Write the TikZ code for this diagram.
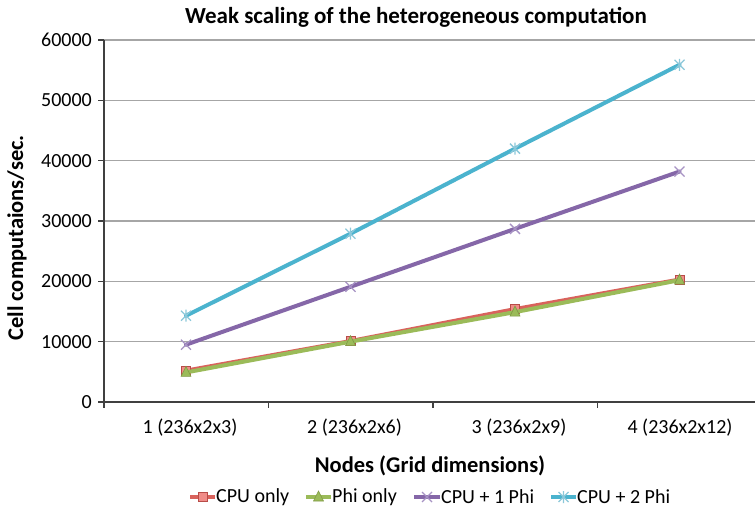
\documentclass[tikz,border=0pt]{standalone}
\usepackage{fontspec}
\setmainfont{Carlito}
\usetikzlibrary{calc}
\definecolor{cred}{HTML}{D9625C}
\definecolor{credf}{HTML}{F08C88}
\definecolor{credd}{HTML}{B84C48}
\definecolor{cgreen}{HTML}{9BBB59}
\definecolor{cgreend}{HTML}{7F9A45}
\definecolor{cpurple}{HTML}{8567A8}
\definecolor{cpurplel}{HTML}{A793C4}
\definecolor{ccyan}{HTML}{4BB3CE}
\definecolor{ccyanl}{HTML}{8CC8DA}
\definecolor{gridgray}{HTML}{A6A6A6}
\definecolor{axisc}{HTML}{404040}
\tikzset{
  hgrid/.style={draw=gridgray,line width=1.4},
  axisline/.style={draw=axisc,line width=1.4},
  series/.style={line width=4,line join=round,line cap=round},
  sqmark/.style={draw=credd,fill=credf,line width=0.8,minimum size=9,inner sep=0,rectangle},
  ticklab/.style={font=\fontsize{20}{22}\selectfont,text=black},
  axtitle/.style={font=\bfseries\fontsize{22.5}{24}\selectfont},
  legtext/.style={font=\fontsize{20}{22}\selectfont,anchor=west,inner sep=0},
  pics/trimark/.style={code={\fill[cgreen,draw=cgreend,line width=0.6] (-5,4) -- (5,4) -- (0,-6) -- cycle;}},
  pics/xmark/.style={code={\draw[cpurplel,line width=1.3] (-5,-5) -- (5,5) (-5,5) -- (5,-5);}},
  pics/starmark/.style={code={\draw[ccyanl,line width=1.3] (-5,-5) -- (5,5) (-5,5) -- (5,-5) (0,-6) -- (0,6);}},
}
\begin{document}
\begin{tikzpicture}[x=1pt,y=-1pt]
\useasboundingbox (0,0) rectangle (755,511);
\fill[white] (0,0) rectangle (755,511);
% grid
\foreach \yy in {341.67,281.33,221,160.67,100.33,40} {
  \path[hgrid] (104,\yy) -- (755,\yy);
  \path[axisline] (98,\yy) -- (104,\yy);
}
% axes
\coordinate (origin) at (104,402);
\coordinate (ytop) at (104,40);
\coordinate (xend) at (755,402);
\draw[axisline] (ytop) -- (origin) -- (xend);
\draw[axisline] (98,402) -- (origin);
\foreach \x in {104,268.5,433,597.5} \draw[axisline] (\x,402) -- (\x,408);
% y tick labels
\foreach \v/\t in {0/0,1/10000,2/20000,3/30000,4/40000,5/50000,6/60000}
  \node[ticklab,anchor=east,inner sep=0] (yl\v) at (92,{402-60.33*\v}) {\t};
% x tick labels
\node[ticklab] (xl1) at (190,428) {1 (236x2x3)};
\node[ticklab] (xl2) at (354.5,428) {2 (236x2x6)};
\node[ticklab] (xl3) at (519,428) {3 (236x2x9)};
\node[ticklab] (xl4) at (680,428) {4 (236x2x12)};
% titles
\node[font=\bfseries\fontsize{23}{26}\selectfont] (title) at (416,17) {Weak scaling of the heterogeneous computation};
\node[axtitle] (xtitle) at (430,466) {Nodes (Grid dimensions)};
\node[axtitle,rotate=90] (ytitle) at (17,238) {Cell computaions/sec.};
% data
\begin{scope}[shift={(0,402)},y=6.033pt]
\coordinate (c1) at (186,5.2);  \coordinate (c2) at (350.5,10.1);
\coordinate (c3) at (515,15.4); \coordinate (c4) at (679.5,20.3);
\coordinate (p1) at (186,4.9);  \coordinate (p2) at (350.5,10.0);
\coordinate (p3) at (515,14.9); \coordinate (p4) at (679.5,20.2);
\coordinate (a1) at (186,9.5);  \coordinate (a2) at (350.5,19.1);
\coordinate (a3) at (515,28.7); \coordinate (a4) at (679.5,38.2);
\coordinate (b1) at (186,14.3); \coordinate (b2) at (350.5,27.9);
\coordinate (b3) at (515,42.0); \coordinate (b4) at (679.5,55.9);
\end{scope}
\draw[series,cred] (c1) -- (c2) -- (c3) -- (c4);
\foreach \p in {c1,c2,c3,c4} \node[sqmark] at (\p) {};
\draw[series,cgreen] (p1) -- (p2) -- (p3) -- (p4);
\foreach \p in {p1,p2,p3,p4} \pic at (\p) {trimark};
\draw[series,cpurple] (a1) -- (a2) -- (a3) -- (a4);
\foreach \p in {a1,a2,a3,a4} \pic at (\p) {xmark};
\draw[series,ccyan] (b1) -- (b2) -- (b3) -- (b4);
\foreach \p in {b1,b2,b3,b4} \pic at (\p) {starmark};
% legend
\coordinate (l1a) at (190,497); \coordinate (l1b) at (215,497);
\draw[series,cred,line cap=butt] (l1a) -- (l1b);
\node[sqmark] at ($(l1a)!0.5!(l1b)$) {};
\node[legtext] (lt1) at (216,497) {CPU only};
\coordinate (l2a) at (306,497); \coordinate (l2b) at (331,497);
\draw[series,cgreen,line cap=butt] (l2a) -- (l2b);
\pic at (318.5,497) {trimark};
\node[legtext] (lt2) at (332,497) {Phi only};
\coordinate (l3a) at (414,497); \coordinate (l3b) at (440,497);
\draw[series,cpurple,line cap=butt] (l3a) -- (l3b);
\pic at (427,497) {xmark};
\node[legtext] (lt3) at (441,497) {CPU + 1 Phi};
\coordinate (l4a) at (551,497); \coordinate (l4b) at (576,497);
\draw[series,ccyan,line cap=butt] (l4a) -- (l4b);
\pic at (563.5,497) {starmark};
\node[legtext] (lt4) at (577,497) {CPU + 2 Phi};
\end{tikzpicture}
\end{document}
